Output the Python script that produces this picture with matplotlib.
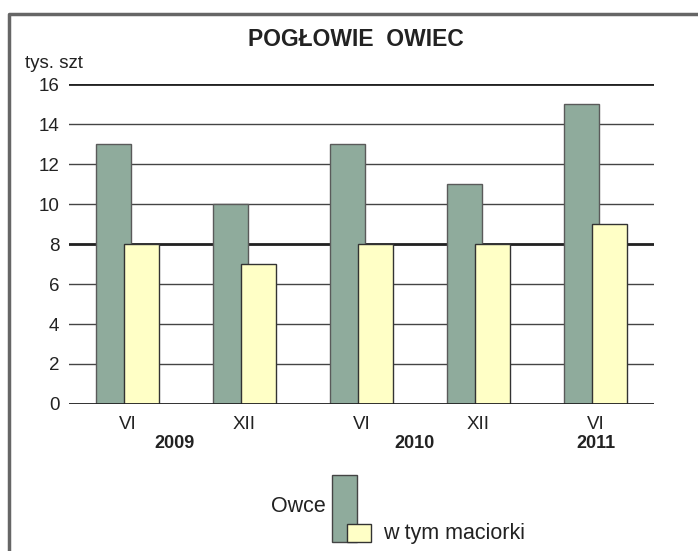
import matplotlib.pyplot as plt
from matplotlib.lines import Line2D
from matplotlib.patches import Rectangle
import numpy as np

plt.rcParams['font.family'] = ['Liberation Sans', 'DejaVu Sans']

# data
months = ['VI', 'XII', 'VI', 'XII', 'VI']
years = ['2009', '2010', '2011']
year_pos = [0.4, 2.45, 4.0]
owce = [13, 10, 13, 11, 15]
maciorki = [8, 7, 8, 8, 9]

green = '#8fab9c'
yellow = '#ffffc6'
txt = '#222222'

fig = plt.figure(figsize=(6.98, 5.51), dpi=100)
ax = fig.add_axes([0.0989, 0.2668, 0.8381, 0.5807])

x = np.arange(len(months))
ax.bar(x - 0.12, owce, width=0.3, color=green, edgecolor='#5a5a5a', linewidth=1, zorder=2)
ax.bar(x + 0.12, maciorki, width=0.3, color=yellow, edgecolor='#333333', linewidth=1, zorder=3)

ax.set_xlim(-0.5, 4.5)
ax.set_ylim(0, 16)
ax.set_yticks(range(0, 17, 2))
ax.set_xticks(x)
ax.set_xticklabels(months)
ax.tick_params(axis='both', length=0, labelsize=13.5, colors=txt)
ax.tick_params(axis='y', pad=7)
ax.tick_params(axis='x', pad=9)

ax.set_axisbelow(True)
ax.grid(axis='y', color='#444444', linewidth=1)
for y in [0, 8, 16]:
    ax.axhline(y, color='#222222', linewidth=2, zorder=1 if y else 4)
for s in ax.spines.values():
    s.set_visible(False)

for lab, p in zip(years, year_pos):
    ax.text(p, -0.125, lab, transform=ax.get_xaxis_transform(), ha='center', va='center',
            fontsize=13, fontweight='bold', color=txt)

fig.text(356 / 698, 1 - 39 / 551, 'POGŁOWIE  OWIEC', ha='center', va='center', fontsize=16.5,
         fontweight='bold', color=txt)
fig.text(25 / 698, 1 - 64 / 551, 'tys. szt', ha='left', va='center', fontsize=13.5, color=txt)

# frame (cut off on right and bottom)
fig.add_artist(Line2D([0.0129, 0.0129, 1.0], [0.0, 0.9737, 0.9737], transform=fig.transFigure,
                      color='#666666', linewidth=2.5))

# legend drawn by hand
fig.add_artist(Rectangle((332 / 698, 1 - 542 / 551), 25 / 698, 67 / 551, transform=fig.transFigure,
                         facecolor=green, edgecolor='#444444', linewidth=1))
fig.add_artist(Rectangle((347 / 698, 1 - 542 / 551), 24 / 698, 18 / 551, transform=fig.transFigure,
                         facecolor=yellow, edgecolor='#333333', linewidth=1))
fig.text(326 / 698, 1 - 506 / 551, 'Owce', ha='right', va='center', fontsize=15.5, color=txt)
fig.text(383 / 698, 1 - 534 / 551, 'w tym maciorki', ha='left', va='center', fontsize=15.5, color=txt)

fig.savefig('out.png', dpi=100)
